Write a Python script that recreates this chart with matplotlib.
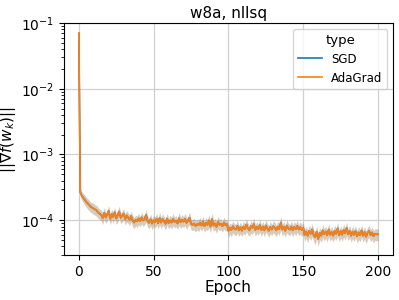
import numpy as np
import matplotlib.pyplot as plt

# gradient norm per epoch, in units of 1e-5 (SGD and AdaGrad curves coincide)
epochs = list(range(201))
grad_norm = [
    7000, 26.5, 23.5, 22.0, 20.5, 19.0, 18.0, 17.0, 16.0, 15.5,
    15.0, 14.5, 14.0, 13.0, 12.5, 12.0, 10.8, 13.0, 11.0, 12.2,
    13.8, 10.5, 12.4, 11.2, 13.2, 10.6, 11.9, 13.5, 10.9, 11.6,
    12.6, 10.4, 11.8, 10.9, 10.2, 11.5, 9.9, 9.2, 10.1, 9.6,
    10.6, 9.7, 11.0, 9.9, 10.4, 12.0, 9.6, 9.1, 10.3, 8.9,
    9.9, 9.4, 10.5, 9.0, 10.8, 9.2, 10.4, 9.6, 8.8, 10.6,
    9.0, 9.9, 9.2, 10.4, 9.4, 9.8, 8.9, 10.7, 9.3, 10.1,
    9.5, 10.5, 9.1, 9.8, 10.9, 8.8, 8.5, 8.9, 8.2, 8.7,
    8.4, 9.2, 8.3, 9.5, 8.1, 9.1, 8.5, 9.9, 8.0, 10.4,
    8.3, 8.9, 7.9, 9.4, 8.5, 8.8, 8.1, 9.2, 8.4, 8.7,
    6.9, 7.6, 7.1, 8.1, 7.4, 7.2, 8.2, 7.0, 7.8, 6.9,
    8.0, 7.3, 8.6, 7.5, 7.0, 8.1, 7.6, 8.7, 7.1, 7.9,
    7.3, 8.4, 7.1, 8.0, 7.0, 8.3, 7.5, 6.9, 7.9, 7.2,
    8.1, 7.6, 7.0, 8.0, 7.3, 9.2, 7.2, 7.9, 6.9, 8.3,
    7.5, 7.2, 8.0, 7.0, 7.9, 7.3, 8.2, 7.2, 7.8, 7.1,
    7.6, 6.0, 6.7, 5.8, 6.9, 6.2, 7.2, 5.9, 5.5, 6.7,
    5.2, 6.4, 5.8, 7.0, 6.1, 6.7, 5.9, 7.2, 6.0, 6.6,
    5.8, 6.9, 6.2, 7.5, 5.9, 6.8, 6.0, 7.1, 6.3, 7.6,
    6.1, 6.9, 5.8, 6.7, 6.0, 6.8, 5.7, 6.5, 5.9, 7.0,
    5.8, 6.6, 5.6, 6.4, 6.9, 5.9, 6.5, 5.7, 6.2, 6.1,
    6.1,
]
# relative half-width of the confidence band
spread = [
    0.03, 0.14, 0.15, 0.16, 0.17, 0.17, 0.18, 0.18, 0.18, 0.18,
    0.19, 0.18, 0.19, 0.18, 0.19, 0.18, 0.20, 0.19, 0.18, 0.20,
    0.21, 0.19, 0.18, 0.20, 0.19, 0.18, 0.21, 0.20, 0.18, 0.19,
    0.18, 0.19, 0.20, 0.18, 0.19, 0.18, 0.20, 0.19, 0.18, 0.20,
    0.19, 0.18, 0.20, 0.19, 0.18, 0.22, 0.19, 0.18, 0.20, 0.19,
    0.18, 0.19, 0.20, 0.18, 0.21, 0.19, 0.20, 0.18, 0.19, 0.20,
    0.18, 0.19, 0.20, 0.21, 0.18, 0.19, 0.18, 0.22, 0.19, 0.20,
    0.18, 0.21, 0.19, 0.18, 0.22, 0.19, 0.18, 0.20, 0.19, 0.18,
    0.20, 0.19, 0.18, 0.20, 0.19, 0.21, 0.18, 0.22, 0.19, 0.23,
    0.18, 0.19, 0.20, 0.21, 0.18, 0.19, 0.18, 0.20, 0.19, 0.18,
    0.20, 0.19, 0.21, 0.20, 0.19, 0.20, 0.21, 0.19, 0.20, 0.18,
    0.21, 0.19, 0.22, 0.20, 0.19, 0.21, 0.20, 0.22, 0.19, 0.20,
    0.19, 0.21, 0.20, 0.19, 0.20, 0.21, 0.19, 0.20, 0.21, 0.19,
    0.20, 0.21, 0.19, 0.20, 0.19, 0.23, 0.20, 0.21, 0.19, 0.22,
    0.20, 0.19, 0.21, 0.20, 0.19, 0.21, 0.20, 0.19, 0.21, 0.20,
    0.21, 0.20, 0.21, 0.22, 0.20, 0.21, 0.22, 0.20, 0.22, 0.21,
    0.23, 0.21, 0.20, 0.22, 0.21, 0.20, 0.21, 0.22, 0.20, 0.21,
    0.20, 0.22, 0.21, 0.23, 0.20, 0.21, 0.20, 0.22, 0.21, 0.23,
    0.20, 0.21, 0.20, 0.22, 0.21, 0.20, 0.21, 0.22, 0.20, 0.21,
    0.20, 0.21, 0.22, 0.20, 0.21, 0.20, 0.22, 0.21, 0.20, 0.21,
    0.20,
]
series = ["SGD", "AdaGrad"]
colors = ["#1f77b4", "#ff7f0e"]

x = np.array(epochs)
y = np.array(grad_norm) * 1e-5
s = np.array(spread)

fig, ax = plt.subplots(figsize=(3.99, 3.0), dpi=100)
fig.subplots_adjust(left=0.16, right=0.985, top=0.923, bottom=0.15)

for name, c in zip(series, colors):
    ax.fill_between(x, y * (1 - s), y * (1 + s), color=c, alpha=0.22, linewidth=0)
    ax.plot(x, y, color=c, linewidth=1.2, label=name)

ax.set_yscale("log")
ax.set_ylim(2.95e-5, 0.1)
ax.set_xticks([0, 50, 100, 150, 200])
ax.grid(True, which="major", color="#d0d0d0", linewidth=0.9)
ax.set_axisbelow(True)
ax.tick_params(labelsize=10)
ax.set_xlabel("Epoch", fontsize=11, labelpad=1)
ax.set_ylabel(r"$||\nabla f(w_k)||$", fontsize=11, labelpad=2)
ax.set_title("w8a, nllsq", fontsize=11, pad=4)
leg = ax.legend(title="type", loc="upper right", fontsize=8.5, title_fontsize=9.5)

fig.savefig("out.png", dpi=100)
